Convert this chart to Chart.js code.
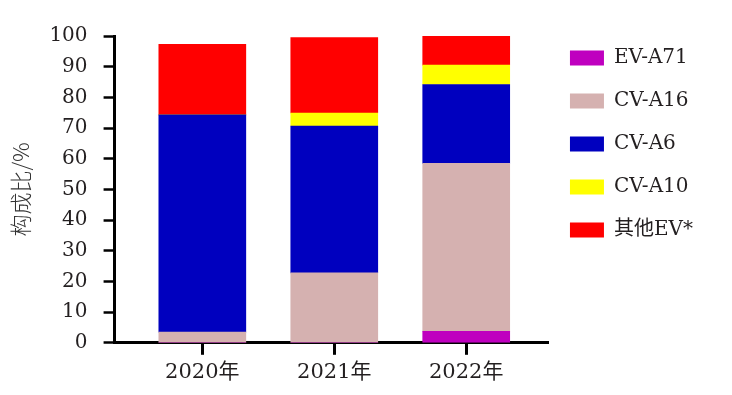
<!DOCTYPE html>
<html>
<head>
<meta charset="utf-8">
<script src="https://cdn.jsdelivr.net/npm/chart.js@4"></script>
<style>
  html, body { margin: 0; padding: 0; background: #fff; }
</style>
</head>
<body>
<canvas id="chart" width="732" height="395"></canvas>
<script>
// data
const years = ['2020年', '2021年', '2022年'];
const evA71 = [0, 0, 3.7];
const cvA16 = [3.5, 22.8, 54.8];
const cvA6 = [70.8, 47.8, 25.7];
const cvA10 = [0, 4.3, 6.3];
const otherEV = [23.0, 24.6, 9.5];
const yTicks = [0, 10, 20, 30, 40, 50, 60, 70, 80, 90, 100];

const serif = '"DejaVu Serif", "Noto Sans CJK SC", serif';
const ink = '#231f20';

const toPoints = arr => arr.map((v, i) => ({ x: i, y: v }));

const makeSet = (label, arr, color) => ({
    label: label,
    data: toPoints(arr),
    backgroundColor: color,
    borderWidth: 0,
    barThickness: 87
});

// move the legend block a little after layout so it sits where the original has it
const legendNudge = {
    id: 'legendNudge',
    afterLayout(chart) {
        const lg = chart.legend;
        lg.top -= 11; lg.bottom -= 11;
        lg.left -= 2; lg.right -= 2;
    }
};

new Chart(document.getElementById('chart'), {
    type: 'bar',
    data: {
        datasets: [
            makeSet('EV-A71', evA71, '#bf00bf'),
            makeSet('CV-A16', cvA16, '#d5b1b0'),
            makeSet('CV-A6', cvA6, '#0000bf'),
            makeSet('CV-A10', cvA10, '#ffff00'),
            makeSet('其他EV*', otherEV, '#ff0000')
        ]
    },
    plugins: [legendNudge],
    options: {
        responsive: false,
        animation: false,
        devicePixelRatio: 1,
        layout: { padding: { top: 36, right: 27, bottom: 5, left: 7 } },
        scales: {
            x: {
                type: 'linear',
                stacked: true,
                offset: false,
                min: -0.665,
                max: 2.627,
                afterBuildTicks: scale => {
                    scale.ticks = years.map((_, i) => ({ value: i }));
                },
                ticks: {
                    callback: v => years[v],
                    color: ink,
                    font: { family: serif, size: 21 },
                    padding: 5,
                    maxRotation: 0
                },
                grid: {
                    display: true,
                    offset: false,
                    drawOnChartArea: false,
                    drawTicks: true,
                    tickLength: 12,
                    tickWidth: 3,
                    tickColor: '#000',
                    color: '#000'
                },
                border: { display: true, color: '#000', width: 3 }
            },
            y: {
                stacked: true,
                min: 0,
                max: 100,
                afterBuildTicks: scale => {
                    scale.ticks = yTicks.map(v => ({ value: v }));
                },
                ticks: {
                    color: ink,
                    font: { family: serif, size: 20 },
                    padding: 16
                },
                grid: {
                    display: true,
                    drawOnChartArea: false,
                    drawTicks: true,
                    tickLength: 11,
                    tickWidth: 2.5,
                    tickColor: '#000'
                },
                border: { display: true, color: '#000', width: 3 },
                title: {
                    display: true,
                    text: '构成比/%',
                    color: '#333',
                    font: { family: '"Noto Sans CJK SC", sans-serif', size: 22, weight: 300 },
                    padding: { top: 0, bottom: 0 }
                }
            }
        },
        plugins: {
            legend: {
                position: 'right',
                align: 'start',
                labels: {
                    boxWidth: 34,
                    boxHeight: 15,
                    padding: 23,
                    color: ink,
                    font: { family: serif, size: 20 }
                }
            },
            tooltip: { enabled: false }
        }
    }
});
</script>
</body>
</html>
